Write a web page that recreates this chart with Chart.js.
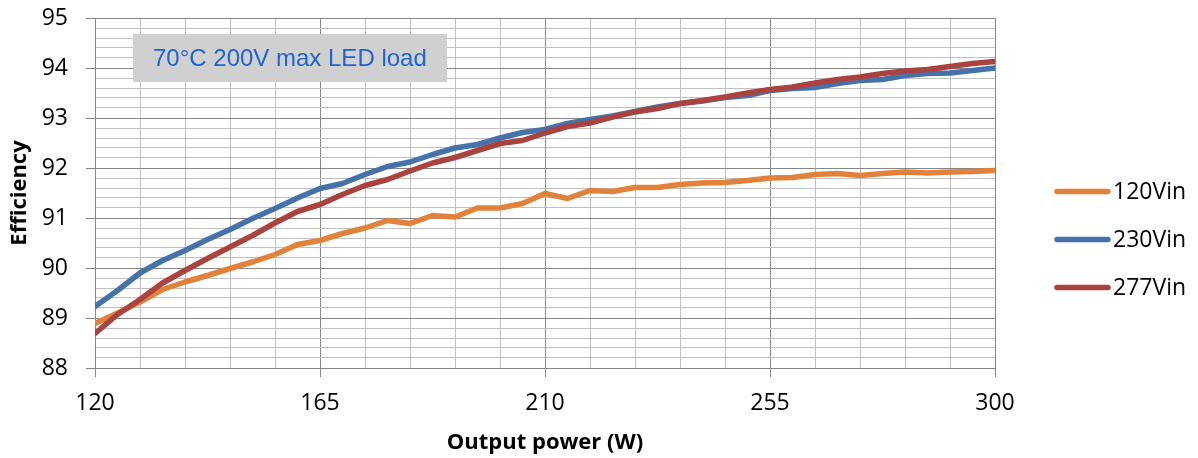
<!DOCTYPE html>
<html>
<head>
<meta charset="utf-8">
<script src="https://cdn.jsdelivr.net/npm/chart.js@4.4.1/dist/chart.umd.min.js"></script>
<style>
  html, body { margin: 0; padding: 0; background: #ffffff; }
  #wrap { width: 1198px; height: 458px; position: relative; }
</style>
</head>
<body>
<div id="wrap"><canvas id="c" width="1198" height="458"></canvas></div>
<script>
// ---- data ----
const powerW = [120, 124.5, 129, 133.5, 138, 142.5, 147, 151.5, 156, 160.5,
  165, 169.5, 174, 178.5, 183, 187.5, 192, 196.5, 201, 205.5,
  210, 214.5, 219, 223.5, 228, 232.5, 237, 241.5, 246, 250.5,
  255, 259.5, 264, 268.5, 273, 277.5, 282, 286.5, 291, 295.5, 300];

const eff120Vin = [88.89, 89.10, 89.32, 89.57, 89.72, 89.85, 89.99, 90.12, 90.27, 90.47,
  90.55, 90.69, 90.80, 90.95, 90.89, 91.05, 91.02, 91.20, 91.20, 91.29,
  91.49, 91.39, 91.55, 91.53, 91.61, 91.61, 91.67, 91.70, 91.71, 91.75,
  91.80, 91.81, 91.87, 91.89, 91.85, 91.89, 91.92, 91.90, 91.92, 91.93, 91.95];

const eff230Vin = [89.23, 89.55, 89.90, 90.15, 90.35, 90.57, 90.77, 90.99, 91.19, 91.40,
  91.59, 91.69, 91.87, 92.03, 92.12, 92.27, 92.40, 92.47, 92.60, 92.71,
  92.77, 92.89, 92.97, 93.04, 93.13, 93.22, 93.29, 93.34, 93.41, 93.45,
  93.55, 93.59, 93.61, 93.69, 93.75, 93.77, 93.85, 93.89, 93.90, 93.95, 94.00];

const eff277Vin = [88.69, 89.07, 89.37, 89.70, 89.95, 90.19, 90.42, 90.65, 90.90, 91.13,
  91.27, 91.47, 91.65, 91.77, 91.94, 92.10, 92.21, 92.35, 92.49, 92.55,
  92.70, 92.83, 92.90, 93.02, 93.12, 93.19, 93.29, 93.35, 93.42, 93.50,
  93.57, 93.62, 93.70, 93.77, 93.82, 93.89, 93.94, 93.97, 94.03, 94.09, 94.13];

const seriesNames = ['120Vin', '230Vin', '277Vin'];
const xTickLabels = [120, 165, 210, 255, 300];
const yTickLabels = [88, 89, 90, 91, 92, 93, 94, 95];
const annotationText = '70°C 200V max LED load';
const xTitle = 'Output power (W)';
const yTitle = 'Efficiency';

// ---- styles ----
const colors = ['#e2823a', '#4672aa', '#aa433f'];
const MAJOR = '#878787';
const MINOR = '#c0c0c0';
const FONT = "'Open Sans', 'Liberation Sans', sans-serif";

function near(v, arr) { return arr.some(a => Math.abs(a - v) < 1e-6); }

function toPts(arr) { return powerW.map((x, i) => ({ x: x, y: arr[i] })); }

const allSeries = [eff120Vin, eff230Vin, eff277Vin];
const datasets = allSeries.map((s, i) => ({
  label: seriesNames[i],
  data: toPts(s),
  borderColor: colors[i],
  backgroundColor: colors[i],
  borderWidth: 5.5,
  pointRadius: 0,
  pointHoverRadius: 0,
  tension: 0,
  fill: false,
  borderCapStyle: 'round',
  borderJoinStyle: 'round',
  order: 3 - i
}));

const annotationPlugin = {
  id: 'annot',
  beforeDatasetsDraw(chart) {
    const ctx = chart.ctx;
    ctx.save();
    ctx.fillStyle = '#d0d0d0';
    ctx.fillRect(133, 34, 314, 48);
    ctx.fillStyle = '#1e63d2';
    ctx.font = "24px 'Liberation Sans', Arial, sans-serif";
    ctx.textBaseline = 'middle';
    ctx.textAlign = 'left';
    ctx.fillText(annotationText, 153, 59);
    ctx.restore();
  }
};

const legendPlugin = {
  id: 'sideLegend',
  afterDraw(chart) {
    const ctx = chart.ctx;
    ctx.save();
    const ys = [191.5, 239.5, 287.5];
    chart.data.datasets.forEach((ds, i) => {
      ctx.strokeStyle = ds.borderColor;
      ctx.lineWidth = 5.5;
      ctx.lineCap = 'round';
      ctx.beginPath();
      ctx.moveTo(1057, ys[i]);
      ctx.lineTo(1108, ys[i]);
      ctx.stroke();
      ctx.fillStyle = '#000000';
      ctx.font = '23px ' + FONT;
      ctx.textBaseline = 'middle';
      ctx.textAlign = 'left';
      ctx.fillText(ds.label, 1113, ys[i] + 1);
    });
    ctx.restore();
  }
};

new Chart(document.getElementById('c'), {
  type: 'line',
  data: { datasets: datasets },
  plugins: [annotationPlugin, legendPlugin],
  options: {
    responsive: false,
    animation: false,
    events: [],
    layout: { padding: { left: 0, right: 203, top: 18, bottom: 0 } },
    plugins: { legend: { display: false }, tooltip: { enabled: false } },
    scales: {
      x: {
        type: 'linear',
        min: 120, max: 300,
        afterFit(s) { s.height = 90; s.paddingLeft = 0; s.paddingRight = 0; },
        ticks: {
          stepSize: 9,
          autoSkip: false,
          maxRotation: 0,
          padding: 13,
          color: '#000000',
          font: { family: FONT, size: 23 },
          callback: (v) => near(v, xTickLabels) ? String(Math.round(v)) : ''
        },
        grid: {
          color: (c) => (c.tick && near(c.tick.value, xTickLabels)) ? MAJOR : MINOR,
          tickColor: (c) => (c.tick && near(c.tick.value, xTickLabels)) ? MAJOR : 'rgba(0,0,0,0)',
          tickLength: 9,
          lineWidth: 1
        },
        border: { color: MAJOR, width: 1 },
        title: {
          display: true,
          text: xTitle,
          color: '#000000',
          font: { family: FONT, size: 22, weight: 'bold' },
          padding: { top: 0, bottom: 2 }
        }
      },
      y: {
        type: 'linear',
        min: 88, max: 95,
        afterFit(s) { s.width = 95; s.paddingTop = 0; s.paddingBottom = 0; },
        ticks: {
          stepSize: 0.2,
          autoSkip: false,
          padding: 18,
          color: '#000000',
          font: { family: FONT, size: 23 },
          callback: (v) => near(v, yTickLabels) ? String(Math.round(v)) : ''
        },
        grid: {
          color: (c) => (c.tick && near(c.tick.value, yTickLabels)) ? MAJOR : MINOR,
          tickColor: (c) => (c.tick && near(c.tick.value, yTickLabels)) ? MAJOR : 'rgba(0,0,0,0)',
          tickLength: 9,
          lineWidth: 1
        },
        border: { color: MAJOR, width: 1 },
        title: {
          display: true,
          text: yTitle,
          color: '#000000',
          font: { family: FONT, size: 22, weight: 'bold' },
          padding: { top: 7, bottom: 0 }
        }
      }
    }
  }
});
</script>
</body>
</html>
